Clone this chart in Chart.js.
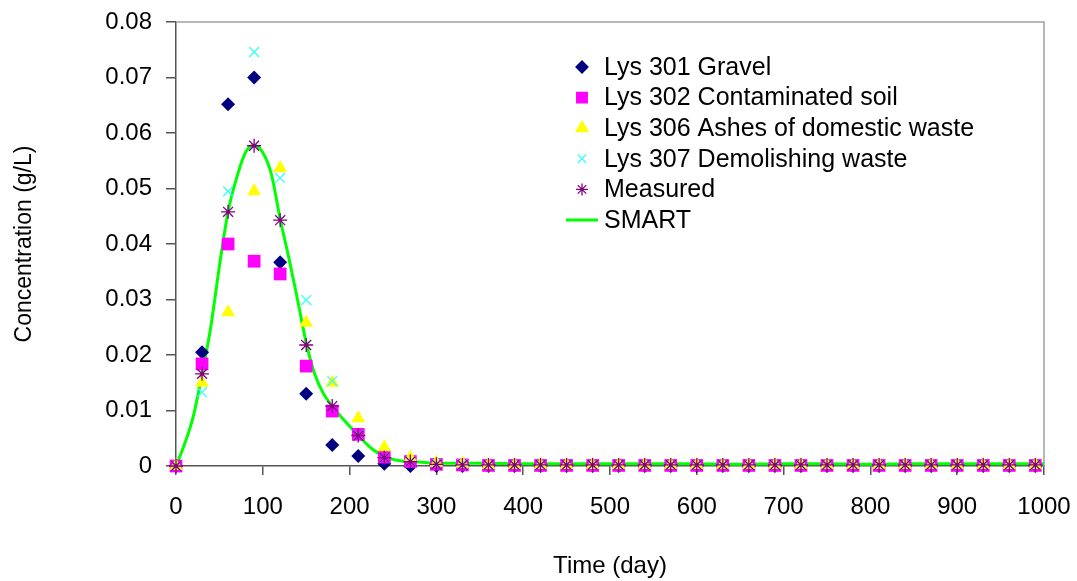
<!DOCTYPE html>
<html>
<head>
<meta charset="utf-8">
<script src="https://cdn.jsdelivr.net/npm/chart.js@4"></script>
<style>
  body { margin: 0; background: #fff; }
  canvas { display: block; }
</style>
</head>
<body>
<canvas id="concChart" width="1077" height="581"></canvas>
<script>
// sampling days for the lysimeter series
const days = [0, 30, 60, 90, 120, 150, 180, 210, 240, 270, 300, 330, 360, 390, 420, 450, 480,
  510, 540, 570, 600, 630, 660, 690, 720, 750, 780, 810, 840, 870, 900, 930, 960, 990];

const lys301 = [0, 0.0205, 0.0652, 0.0700, 0.0367, 0.0130, 0.0038, 0.0018, 0.0004, 0, 0, 0, 0, 0, 0, 0, 0,
  0, 0, 0, 0, 0, 0, 0, 0, 0, 0, 0, 0, 0, 0, 0, 0, 0];
const lys302 = [0, 0.0184, 0.0400, 0.0369, 0.0346, 0.0180, 0.0099, 0.0057, 0.0016, 0.0008, 0.0003, 0.0002, 0.0001, 0.0001, 0.0001, 0.0001, 0.0001,
  0.0001, 0.0001, 0.0001, 0.0001, 0.0001, 0.0001, 0.0001, 0.0001, 0.0001, 0.0001, 0.0001, 0.0001, 0.0001, 0.0001, 0.0001, 0.0001, 0.0001];
const lys306 = [0, 0.0150, 0.0277, 0.0495, 0.0537, 0.0258, 0.0150, 0.0086, 0.0034, 0.0015, 0.0006, 0.0004, 0.0002, 0.0002, 0.0002, 0.0002, 0.0002,
  0.0002, 0.0002, 0.0002, 0.0002, 0.0002, 0.0002, 0.0002, 0.0002, 0.0002, 0.0002, 0.0002, 0.0002, 0.0002, 0.0002, 0.0002, 0.0002, 0.0002];
const lys307 = [0, 0.0133, 0.0495, 0.0746, 0.0519, 0.0299, 0.0153, 0.0056, 0.0015, 0.0008, 0.0004, 0.0003, 0.0002, 0.0002, 0.0002, 0.0002, 0.0002,
  0.0002, 0.0002, 0.0002, 0.0002, 0.0002, 0.0002, 0.0002, 0.0002, 0.0002, 0.0002, 0.0002, 0.0002, 0.0002, 0.0002, 0.0002, 0.0002, 0.0002];
const measured = [0, 0.0166, 0.0458, 0.0577, 0.0443, 0.0218, 0.0108, 0.0055, 0.0015, 0.0008, 0.0003, 0.0002, 0.0002, 0.0002, 0.0002, 0.0002, 0.0002,
  0.0002, 0.0002, 0.0002, 0.0002, 0.0002, 0.0002, 0.0002, 0.0002, 0.0002, 0.0002, 0.0002, 0.0002, 0.0002, 0.0002, 0.0002, 0.0002, 0.0002];

// SMART model curve
const smartDays = [0, 10, 20, 30, 40, 50, 60, 70, 80, 90, 100, 110, 120, 130, 140, 150, 160, 170, 180,
  195, 210, 225, 240, 260, 280, 300, 350, 400, 450, 500, 550, 600, 650, 700, 750, 800, 850, 900, 950, 1000];
const smart = [0, 0.004, 0.009, 0.0165, 0.025, 0.036, 0.0458, 0.052, 0.0565, 0.0578, 0.0565, 0.0525, 0.0445, 0.0375, 0.030, 0.0222, 0.0165, 0.0130, 0.0108,
  0.0080, 0.0055, 0.0032, 0.0017, 0.0009, 0.0007, 0.0005, 0.0005, 0.0004, 0.0004, 0.0004, 0.0004, 0.0004, 0.0003, 0.0004, 0.0004, 0.0003, 0.0004, 0.0004, 0.0004, 0.0004];

const xTicks = [0, 100, 200, 300, 400, 500, 600, 700, 800, 900, 1000];
const yTicks = [0, 0.01, 0.02, 0.03, 0.04, 0.05, 0.06, 0.07, 0.08];

const FONT = "'Liberation Sans', Arial, sans-serif";
const toPoints = (xs, ys) => xs.map((x, i) => ({ x: x, y: ys[i] }));

const series = [
  { label: 'Lys 301 Gravel', data: lys301, style: 'rectRot', color: '#000080', radius: 7, legendRadius: 6 },
  { label: 'Lys 302 Contaminated soil', data: lys302, style: 'rect', color: '#FF00FF', radius: 9, legendRadius: 7.5 },
  { label: 'Lys 306 Ashes of domestic waste', data: lys306, style: 'triangle', color: '#FFFF00', radius: 8, legendRadius: 7 },
  { label: 'Lys 307 Demolishing waste', data: lys307, style: 'crossRot', color: '#33FFFF', radius: 7, legendRadius: 6 },
  { label: 'Measured', data: measured, style: 'star', color: '#800080', radius: 7, legendRadius: 6 }
];

const datasets = series.map((s, i) => ({
  label: s.label,
  data: toPoints(days, s.data),
  pointStyle: s.style,
  pointRadius: s.radius,
  pointHoverRadius: s.radius,
  backgroundColor: s.color,
  borderColor: s.color,
  pointBorderWidth: (s.style === 'crossRot' || s.style === 'star') ? 1.3 : 0,
  clip: false,
  order: 10 - i
}));

datasets.push({
  type: 'line',
  label: 'SMART',
  data: toPoints(smartDays, smart),
  borderColor: '#00FF00',
  borderWidth: 3,
  pointRadius: 0,
  fill: false,
  showLine: true,
  cubicInterpolationMode: 'monotone',
  clip: false,
  order: 20
});

// top/right frame of the plot area
const frame = {
  id: 'frame',
  beforeDatasetsDraw(chart) {
    const { ctx, chartArea: a } = chart;
    ctx.save();
    ctx.strokeStyle = '#a0a0a0';
    ctx.lineWidth = 1.5;
    ctx.beginPath();
    ctx.moveTo(a.left, a.top);
    ctx.lineTo(a.right, a.top);
    ctx.lineTo(a.right, a.bottom);
    ctx.stroke();
    ctx.restore();
  }
};

// legend drawn inside the plot, like the original
const insideLegend = {
  id: 'insideLegend',
  afterDraw(chart) {
    const ctx = chart.ctx;
    const x0 = 582, y0 = 67, step = 30.6;
    ctx.save();
    ctx.font = '25px ' + FONT;
    ctx.textBaseline = 'middle';
    series.forEach((s, i) => {
      const y = y0 + i * step;
      ctx.fillStyle = s.color;
      ctx.strokeStyle = s.color;
      ctx.lineWidth = (s.style === 'crossRot' || s.style === 'star') ? 1.3 : 0;
      Chart.helpers.drawPoint(ctx, { pointStyle: s.style, radius: s.legendRadius, rotation: 0, borderWidth: ctx.lineWidth }, x0, y);
      ctx.fillStyle = '#000';
      ctx.fillText(s.label, 604, y + 1);
    });
    const yl = y0 + 5 * step;
    ctx.strokeStyle = '#00FF00';
    ctx.lineWidth = 3;
    ctx.beginPath();
    ctx.moveTo(566, yl);
    ctx.lineTo(598, yl);
    ctx.stroke();
    ctx.fillStyle = '#000';
    ctx.fillText('SMART', 604, yl + 1);
    ctx.restore();
  }
};

const ctx = document.getElementById('concChart').getContext('2d');
const concChart = new Chart(ctx, {
  type: 'scatter',
  data: { datasets: datasets },
  options: {
    responsive: false,
    animation: false,
    layout: { padding: { top: 22, right: 33, left: 0, bottom: 0 } },
    scales: {
      x: {
        type: 'linear',
        min: 0,
        max: 1000,
        afterFit: (scale) => {
          scale.height = 115;
          scale.paddingLeft = 0;
          scale.paddingRight = 0;
        },
        afterBuildTicks: (scale) => { scale.ticks = xTicks.map(v => ({ value: v })); },
        ticks: {
          color: '#000',
          font: { family: FONT, size: 24 },
          padding: 18,
          maxRotation: 0,
          autoSkip: false,
          callback: (v) => String(v)
        },
        grid: { display: true, drawOnChartArea: false, drawTicks: true, tickLength: 9, color: '#555', lineWidth: 1.5 },
        border: { display: true, color: '#555', width: 1.5 },
        title: { display: true, text: 'Time (day)', color: '#000', font: { family: FONT, size: 24 }, padding: { top: 0, bottom: 0 } }
      },
      y: {
        type: 'linear',
        min: 0,
        max: 0.08,
        afterFit: (scale) => {
          scale.width = 176;
          scale.paddingTop = 0;
          scale.paddingBottom = 0;
        },
        afterBuildTicks: (scale) => { scale.ticks = yTicks.map(v => ({ value: v })); },
        ticks: {
          color: '#000',
          font: { family: FONT, size: 24 },
          padding: 14,
          callback: (v) => v === 0 ? '0' : v.toFixed(2)
        },
        grid: { display: true, drawOnChartArea: false, drawTicks: true, tickLength: 10, color: '#555', lineWidth: 1.5 },
        border: { display: true, color: '#555', width: 1.5 },
        title: { display: true, text: 'Concentration (g/L)', color: '#000', font: { family: FONT, size: 23 }, padding: { top: 11, bottom: 0 } }
      }
    },
    plugins: {
      legend: { display: false },
      tooltip: { enabled: false }
    }
  },
  plugins: [frame, insideLegend]
});
</script>
</body>
</html>
